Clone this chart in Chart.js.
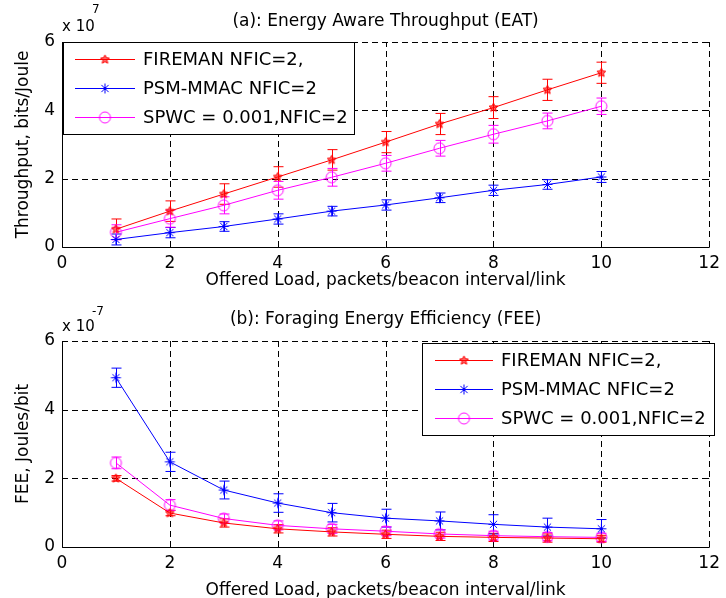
<!DOCTYPE html>
<html><head><meta charset="utf-8">
<script src="https://cdn.jsdelivr.net/npm/chart.js@4.4.0/dist/chart.umd.min.js"></script>
<style>
html,body{margin:0;padding:0;background:#fff;}
#wrap{position:relative;width:726px;height:598px;background:#fff;}
.c{position:absolute;left:0;width:726px;height:299px;}
</style></head><body>
<div id="wrap">
<div class="c" style="top:0"><canvas id="c1" width="726" height="299"></canvas></div>
<div class="c" style="top:299px"><canvas id="c2" width="726" height="299"></canvas></div>
</div>
<script>
// ---------- data ----------
const offeredLoad = [1, 2, 3, 4, 5, 6, 7, 8, 9, 10];
const xTicks = [0, 2, 4, 6, 8, 10, 12];
const yTicks = [0, 2, 4, 6];
const seriesNames = ['FIREMAN NFIC=2,', 'PSM-MMAC NFIC=2', 'SPWC = 0.001,NFIC=2'];

// (a) EAT, units of 1e7 bits/Joule
const eatFireman    = [0.52, 1.05, 1.55, 2.05, 2.55, 3.07, 3.60, 4.08, 4.60, 5.10];
const eatFiremanErr = [0.30, 0.30, 0.30, 0.30, 0.30, 0.31, 0.31, 0.32, 0.31, 0.31];
const eatPsm        = [0.22, 0.42, 0.60, 0.82, 1.05, 1.23, 1.44, 1.66, 1.83, 2.05];
const eatPsmErr     = [0.16, 0.15, 0.14, 0.15, 0.14, 0.15, 0.14, 0.15, 0.14, 0.16];
const eatSpwc       = [0.43, 0.83, 1.22, 1.66, 2.04, 2.45, 2.89, 3.30, 3.69, 4.12];
const eatSpwcErr    = [0.22, 0.25, 0.25, 0.26, 0.26, 0.23, 0.23, 0.26, 0.23, 0.24];

// (b) FEE, units of 1e-7 Joules/bit
const feeFireman    = [2.00, 0.99, 0.70, 0.53, 0.44, 0.37, 0.31, 0.28, 0.26, 0.24];
const feeFiremanErr = [0.08, 0.08, 0.12, 0.12, 0.12, 0.12, 0.12, 0.12, 0.12, 0.10];
const feePsm        = [4.93, 2.48, 1.66, 1.28, 1.00, 0.84, 0.76, 0.66, 0.58, 0.53];
const feePsmErr     = [0.28, 0.28, 0.26, 0.27, 0.27, 0.26, 0.26, 0.28, 0.26, 0.27];
const feeSpwc       = [2.45, 1.22, 0.83, 0.63, 0.53, 0.46, 0.38, 0.33, 0.30, 0.28];
const feeSpwcErr    = [0.17, 0.16, 0.13, 0.13, 0.13, 0.13, 0.12, 0.13, 0.12, 0.12];

const seriesColors = ['rgb(255,0,0)', 'rgb(0,0,255)', 'rgb(255,0,255)'];

// ---------- markers ----------
function makeMarker(kind, color) {
  const c = document.createElement('canvas');
  c.width = 15; c.height = 15;
  const g = c.getContext('2d');
  g.strokeStyle = color; g.fillStyle = color; g.lineWidth = 1;
  const cx = 7.5, cy = 7.5;
  g.beginPath();
  if (kind === 'pentagram') {
    for (let k = 0; k < 10; k++) {
      const r = k % 2 === 0 ? 4.6 : 2.2;
      const a = -Math.PI / 2 + k * Math.PI / 5;
      const px = cx + r * Math.cos(a), py = cy + r * Math.sin(a);
      if (k === 0) g.moveTo(px, py); else g.lineTo(px, py);
    }
    g.closePath();
    g.globalAlpha = 0.6; g.fill(); g.globalAlpha = 1;
  } else if (kind === 'asterisk') {
    const r = 5, d = r * 0.72;
    g.moveTo(cx, cy - r); g.lineTo(cx, cy + r);
    g.moveTo(cx - r, cy); g.lineTo(cx + r, cy);
    g.moveTo(cx - d, cy - d); g.lineTo(cx + d, cy + d);
    g.moveTo(cx - d, cy + d); g.lineTo(cx + d, cy - d);
  } else {
    g.arc(cx, cy, 5.5, 0, Math.PI * 2);
  }
  g.stroke();
  return c;
}
const markers = [
  makeMarker('pentagram', seriesColors[0]),
  makeMarker('asterisk', seriesColors[1]),
  makeMarker('circle', seriesColors[2])
];

const FONT = '"DejaVu Sans", sans-serif';

// ---------- plugin: MATLAB-style frame, error bars, legend, titles ----------
const matlabPlugin = {
  id: 'matlab',
  beforeDatasetsDraw(chart, args, o) {
    const {ctx, chartArea: a, scales: {x, y}} = chart;
    ctx.save();
    ctx.strokeStyle = '#000';
    ctx.lineWidth = 1;
    ctx.setLineDash([6, 4]);
    xTicks.forEach(v => {
      if (v <= x.min) return;
      const px = Math.round(x.getPixelForValue(v)) + 0.5;
      ctx.beginPath(); ctx.moveTo(px, a.bottom); ctx.lineTo(px, a.top); ctx.stroke();
    });
    yTicks.forEach(v => {
      if (v <= y.min) return;
      const py = Math.round(y.getPixelForValue(v)) + 0.5;
      ctx.beginPath(); ctx.moveTo(a.left, py); ctx.lineTo(a.right, py); ctx.stroke();
    });
    ctx.setLineDash([]);
    const L = Math.round(a.left) + 0.5, B = Math.round(a.bottom) + 0.5;
    ctx.beginPath();
    ctx.moveTo(L, a.top); ctx.lineTo(L, B); ctx.lineTo(a.right, B);
    ctx.stroke();
    // inward tick marks
    ctx.beginPath();
    xTicks.forEach(v => {
      const px = Math.round(x.getPixelForValue(v)) + 0.5;
      ctx.moveTo(px, B); ctx.lineTo(px, B - 5);
      ctx.moveTo(px, a.top); ctx.lineTo(px, a.top + 5);
    });
    yTicks.forEach(v => {
      const py = Math.round(y.getPixelForValue(v)) + 0.5;
      ctx.moveTo(L, py); ctx.lineTo(L + 5, py);
      ctx.moveTo(a.right, py); ctx.lineTo(a.right - 5, py);
    });
    ctx.stroke();
    // error bars
    chart.data.datasets.forEach((ds, i) => {
      const errs = o.errors[i];
      ctx.strokeStyle = ds.borderColor;
      ctx.beginPath();
      ds.data.forEach((p, j) => {
        const px = Math.round(x.getPixelForValue(p.x)) + 0.5;
        const y1 = y.getPixelForValue(p.y + errs[j]);
        const y2 = y.getPixelForValue(p.y - errs[j]);
        ctx.moveTo(px, y1); ctx.lineTo(px, y2);
        ctx.moveTo(px - 5, y1); ctx.lineTo(px + 5, y1);
        ctx.moveTo(px - 5, y2); ctx.lineTo(px + 5, y2);
      });
      ctx.stroke();
    });
    ctx.restore();
  },
  afterDraw(chart, args, o) {
    const {ctx, chartArea: a} = chart;
    ctx.save();
    // title
    ctx.fillStyle = '#000';
    ctx.font = '17px ' + FONT;
    ctx.textAlign = 'center';
    ctx.textBaseline = 'alphabetic';
    ctx.fillText(o.title, (a.left + a.right) / 2, o.titleY);
    // exponent multiplier
    ctx.textAlign = 'left';
    ctx.font = '15px ' + FONT;
    ctx.fillText('x 10', a.left, o.multY);
    ctx.font = '12px ' + FONT;
    ctx.fillText(o.exponent, a.left + 30, o.expY);
    // legend
    const lb = o.legend;
    ctx.fillStyle = '#fff';
    ctx.fillRect(lb.x, lb.y, lb.w, lb.h);
    ctx.strokeStyle = '#000';
    ctx.lineWidth = 1;
    ctx.strokeRect(lb.x + 0.5, lb.y + 0.5, lb.w - 1, lb.h - 1);
    ctx.font = '18px ' + FONT;
    ctx.textBaseline = 'middle';
    chart.data.datasets.forEach((ds, i) => {
      const ry = lb.y + lb.rowStart + i * lb.rowGap;
      ctx.strokeStyle = ds.borderColor;
      ctx.beginPath();
      ctx.moveTo(lb.x + lb.lineX0, Math.round(ry) + 0.5);
      ctx.lineTo(lb.x + lb.lineX1, Math.round(ry) + 0.5);
      ctx.stroke();
      const m = markers[i];
      ctx.drawImage(m, lb.x + (lb.lineX0 + lb.lineX1) / 2 - m.width / 2, Math.round(ry) + 0.5 - m.height / 2);
      ctx.fillStyle = '#000';
      ctx.fillText(ds.label, lb.x + lb.textX, ry + 1);
    });
    ctx.restore();
  }
};

function buildDatasets(arrs) {
  return arrs.map((arr, i) => ({
    label: seriesNames[i],
    data: offeredLoad.map((xv, j) => ({x: xv, y: arr[j]})),
    borderColor: seriesColors[i],
    backgroundColor: seriesColors[i],
    borderWidth: 1,
    pointStyle: markers[i],
    pointRadius: 5,
    pointHoverRadius: 5,
    tension: 0,
    fill: false
  }));
}

function makeChart(id, cfg) {
  return new Chart(document.getElementById(id), {
    type: 'line',
    data: {datasets: buildDatasets(cfg.series)},
    options: {
      responsive: false,
      devicePixelRatio: 1,
      animation: false,
      events: [],
      layout: {padding: {top: 42, right: 12, left: 0, bottom: 0}},
      plugins: {
        legend: {display: false},
        title: {display: false},
        tooltip: {enabled: false},
        matlab: {
          errors: cfg.errors,
          title: cfg.title,
          titleY: cfg.titleY,
          exponent: cfg.exponent,
          multY: cfg.multY,
          expY: cfg.expY,
          legend: cfg.legend
        }
      },
      scales: {
        x: {
          type: 'linear', min: 0, max: 12,
          afterBuildTicks(s) { s.ticks = xTicks.map(v => ({value: v})); },
          ticks: {color: '#000', font: {family: FONT, size: 17}, padding: 6, maxRotation: 0, autoSkip: false},
          grid: {display: false, drawTicks: false},
          border: {display: false},
          title: {display: true, text: 'Offered Load, packets/beacon interval/link', color: '#000',
                  font: {family: FONT, size: 17}, padding: {top: 0, bottom: cfg.xTitlePad}},
          afterFit(s) { s.height = cfg.xAxisHeight; }
        },
        y: {
          type: 'linear', min: 0, max: 6,
          afterBuildTicks(s) { s.ticks = yTicks.map(v => ({value: v})); },
          ticks: {color: '#000', font: {family: FONT, size: 17}, padding: 7, autoSkip: false},
          grid: {display: false, drawTicks: false},
          border: {display: false},
          title: {display: true, text: cfg.yTitle, color: '#000',
                  font: {family: FONT, size: 17}, padding: {top: 13, bottom: 0}},
          afterFit(s) { s.width = 62; }
        }
      }
    },
    plugins: [matlabPlugin]
  });
}

makeChart('c1', {
  series: [eatFireman, eatPsm, eatSpwc],
  errors: [eatFiremanErr, eatPsmErr, eatSpwcErr],
  title: '(a): Energy Aware Throughput (EAT)',
  titleY: 26,
  exponent: '7',
  multY: 31,
  expY: 13,
  yTitle: 'Throughput, bits/Joule',
  xAxisHeight: 52,
  xTitlePad: 8,
  legend: {x: 63, y: 42, w: 292, h: 93, rowStart: 17, rowGap: 29, lineX0: 12, lineX1: 72, textX: 80}
});

makeChart('c2', {
  series: [feeFireman, feePsm, feeSpwc],
  errors: [feeFiremanErr, feePsmErr, feeSpwcErr],
  title: '(b): Foraging Energy Efficiency (FEE)',
  titleY: 25,
  exponent: '-7',
  multY: 32,
  expY: 16,
  yTitle: 'FEE, Joules/bit',
  xAxisHeight: 51,
  xTitlePad: -3,
  legend: {x: 422, y: 44, w: 293, h: 93, rowStart: 17, rowGap: 29, lineX0: 13, lineX1: 71, textX: 79}
});
</script>
</body></html>
